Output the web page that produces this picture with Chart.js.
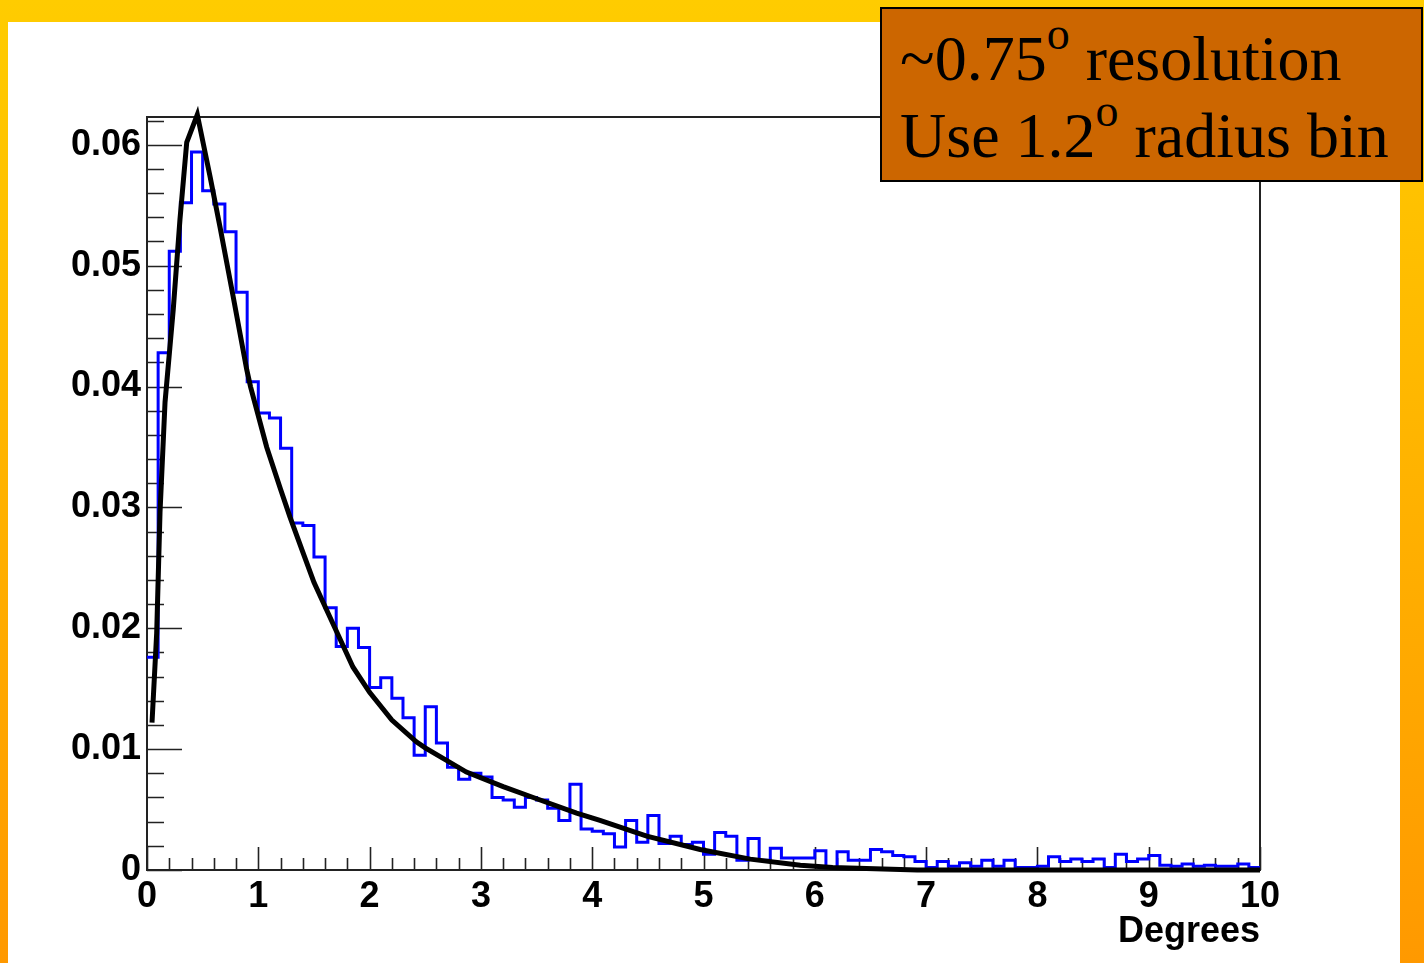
<!DOCTYPE html>
<html>
<head>
<meta charset="utf-8">
<script src="https://cdn.jsdelivr.net/npm/chart.js@4.4.1/dist/chart.umd.min.js"></script>
<style>
  html, body { margin: 0; padding: 0; }
  body {
    width: 1424px; height: 963px; overflow: hidden; position: relative;
    background: linear-gradient(to bottom, #ffcc00 0%, #ff9900 100%);
  }
  #panel { position: absolute; left: 8px; top: 22px; width: 1392px; height: 941px; background: #fff; }
  #wrap { position: absolute; left: 0; top: 0; width: 1424px; height: 963px; }
  #note {
    position: absolute; left: 880px; top: 7px; width: 543px; height: 175px;
    box-sizing: border-box; border: 2px solid #000; background: #cc6600;
    font-family: 'Liberation Serif', 'Times New Roman', serif; font-size: 64px; line-height: 77px;
    color: #000; padding: 11px 0 0 18px; white-space: nowrap;
  }
  #note .deg { font-size: 46px; position: relative; top: -31px; line-height: 0; }
</style>
</head>
<body>
<div id="panel"></div>
<div id="wrap"><canvas id="chart" width="1424" height="963"></canvas></div>
<div id="note">~0.75<span class="deg">o</span> resolution<br>Use 1.2<span class="deg">o</span> radius bin</div>
<script>
'use strict';

// ---------- data ----------
const BIN_WIDTH = 0.1; // degrees per bin, bins start at 0
const histValues = [
  0.0176, 0.0428, 0.0512, 0.0552, 0.0594, 0.0562, 0.0551, 0.0528, 0.0478, 0.0404,
  0.0378, 0.0374, 0.0349, 0.0287, 0.0285, 0.0259, 0.0217, 0.0185, 0.0200, 0.0184,
  0.0151, 0.0159, 0.0142, 0.0126, 0.0095, 0.0135, 0.0105, 0.0085, 0.0075, 0.0080,
  0.0077, 0.0060, 0.0058, 0.0052, 0.0060, 0.0058, 0.0051, 0.0041, 0.0071, 0.0034,
  0.0032, 0.0030, 0.0019, 0.0041, 0.0023, 0.0045, 0.0022, 0.0028, 0.0021, 0.0023,
  0.0013, 0.0031, 0.0028, 0.0008, 0.0026, 0.0008, 0.0018, 0.0010, 0.0010, 0.0010,
  0.0016, 0.0002, 0.0015, 0.0008, 0.0008, 0.0017, 0.0015, 0.0012, 0.0011, 0.0007,
  0.0002, 0.0007, 0.0003, 0.0006, 0.0003, 0.0008, 0.0003, 0.0008, 0.0002, 0.0002,
  0.0003, 0.0011, 0.0007, 0.0009, 0.0007, 0.0009, 0.0002, 0.0013, 0.0007, 0.0009,
  0.0012, 0.0004, 0.0003, 0.0005, 0.0003, 0.0004, 0.0003, 0.0003, 0.0005, 0.0002,
];

// fitted curve (drawn as a polyline like ROOT's TF1)
const fitX = [0.045, 0.087, 0.117, 0.162, 0.236, 0.296, 0.357, 0.452, 0.566, 0.656,
  0.773, 0.896, 0.93, 1.075, 1.2, 1.285, 1.4, 1.5, 1.58, 1.73,
  1.85, 2.0, 2.2, 2.42, 2.5, 2.87, 3.2, 3.47, 3.86, 4.07,
  4.49, 4.97, 5.42, 5.87, 6.16, 6.92, 10];
const fitY = [0.0122, 0.0196, 0.0296, 0.0387, 0.0464, 0.0538, 0.0602, 0.0625, 0.0574, 0.0532,
  0.0475, 0.0414, 0.0400, 0.0350, 0.0315, 0.0292, 0.0263, 0.0238, 0.0222, 0.0192,
  0.0168, 0.0147, 0.0124, 0.0106, 0.0101, 0.0081, 0.0069, 0.0060, 0.0047, 0.0041,
  0.0028, 0.0017, 0.0009, 0.0004, 0.0002, 0.0000, 0.0000];

const xTickValues = [0, 1, 2, 3, 4, 5, 6, 7, 8, 9, 10];
const xTickLabels = ['0', '1', '2', '3', '4', '5', '6', '7', '8', '9', '10'];
const yTickValues = [0, 0.01, 0.02, 0.03, 0.04, 0.05, 0.06];
const yTickLabels = ['0', '0.01', '0.02', '0.03', '0.04', '0.05', '0.06'];
const X_MAX = 10;
const Y_MAX = 0.0623;
const X_MINOR_DIV = 5; // minor ticks per major
const Y_MINOR_DIV = 5;

const LABEL_FONT = { family: "'Liberation Sans', Arial, sans-serif", weight: 'bold', size: 36 };

// ---------- build ----------
const histPoints = histValues.map((v, i) => ({ x: i * BIN_WIDTH, y: v }));
histPoints.push({ x: histValues.length * BIN_WIDTH, y: histValues[histValues.length - 1] });
const fitPoints = fitX.map((x, i) => ({ x, y: fitY[i] }));

// ROOT style frame with inward ticks
const rootFrame = {
  id: 'rootFrame',
  beforeDatasetsDraw(chart) {
    const { ctx, chartArea: a, scales: { x, y } } = chart;
    ctx.save();
    ctx.strokeStyle = '#222';
    ctx.lineWidth = 2;
    ctx.strokeRect(a.left, a.top, a.right - a.left, a.bottom - a.top);
    ctx.lineWidth = 1.6;
    ctx.beginPath();
    const xStep = (xTickValues[1] - xTickValues[0]) / X_MINOR_DIV;
    for (let k = 0; k * xStep <= X_MAX + 1e-9; k++) {
      const px = Math.round(x.getPixelForValue(k * xStep)) + 0.5;
      const len = k % X_MINOR_DIV === 0 ? 23 : 12;
      ctx.moveTo(px, a.bottom);
      ctx.lineTo(px, a.bottom - len);
    }
    const yStep = (yTickValues[1] - yTickValues[0]) / Y_MINOR_DIV;
    for (let k = 0; k * yStep <= Y_MAX + 1e-9; k++) {
      const py = Math.round(y.getPixelForValue(k * yStep)) + 0.5;
      const len = k % Y_MINOR_DIV === 0 ? 35 : 17;
      ctx.moveTo(a.left, py);
      ctx.lineTo(a.left + len, py);
    }
    ctx.stroke();
    ctx.restore();
  },
};

new Chart(document.getElementById('chart'), {
  type: 'line',
  data: {
    datasets: [
      {
        label: 'fit', data: fitPoints, borderColor: '#000', borderWidth: 5,
        pointRadius: 0, tension: 0, borderJoinStyle: 'miter', fill: false, clip: false,
      },
      {
        label: 'hist', data: histPoints, borderColor: '#0000ff', borderWidth: 3,
        pointRadius: 0, stepped: 'before', fill: false,
      },
    ],
  },
  options: {
    responsive: false,
    devicePixelRatio: 1,
    animation: false,
    layout: { padding: { left: 0, right: 164, top: 117, bottom: 0 } },
    plugins: { legend: { display: false }, tooltip: { enabled: false } },
    scales: {
      x: {
        type: 'linear', min: 0, max: X_MAX,
        afterBuildTicks: (s) => { s.ticks = xTickValues.map((value) => ({ value })); },
        afterFit: (s) => { s.height = 93; },
        grid: { display: false, drawTicks: false }, border: { display: false },
        ticks: {
          autoSkip: false, maxRotation: 0, padding: 5, color: '#000', font: LABEL_FONT,
          callback: (v, i) => xTickLabels[i],
        },
        title: {
          display: true, text: 'Degrees', align: 'end', color: '#000', font: LABEL_FONT,
          padding: { top: 0, bottom: 9 },
        },
      },
      y: {
        type: 'linear', min: 0, max: Y_MAX,
        afterBuildTicks: (s) => { s.ticks = yTickValues.map((value) => ({ value })); },
        afterFit: (s) => { s.width = 147; },
        grid: { display: false, drawTicks: false }, border: { display: false },
        ticks: {
          padding: 6, color: '#000', font: LABEL_FONT,
          callback: (v, i) => yTickLabels[i],
        },
      },
    },
  },
  plugins: [rootFrame],
});
</script>
</body>
</html>
